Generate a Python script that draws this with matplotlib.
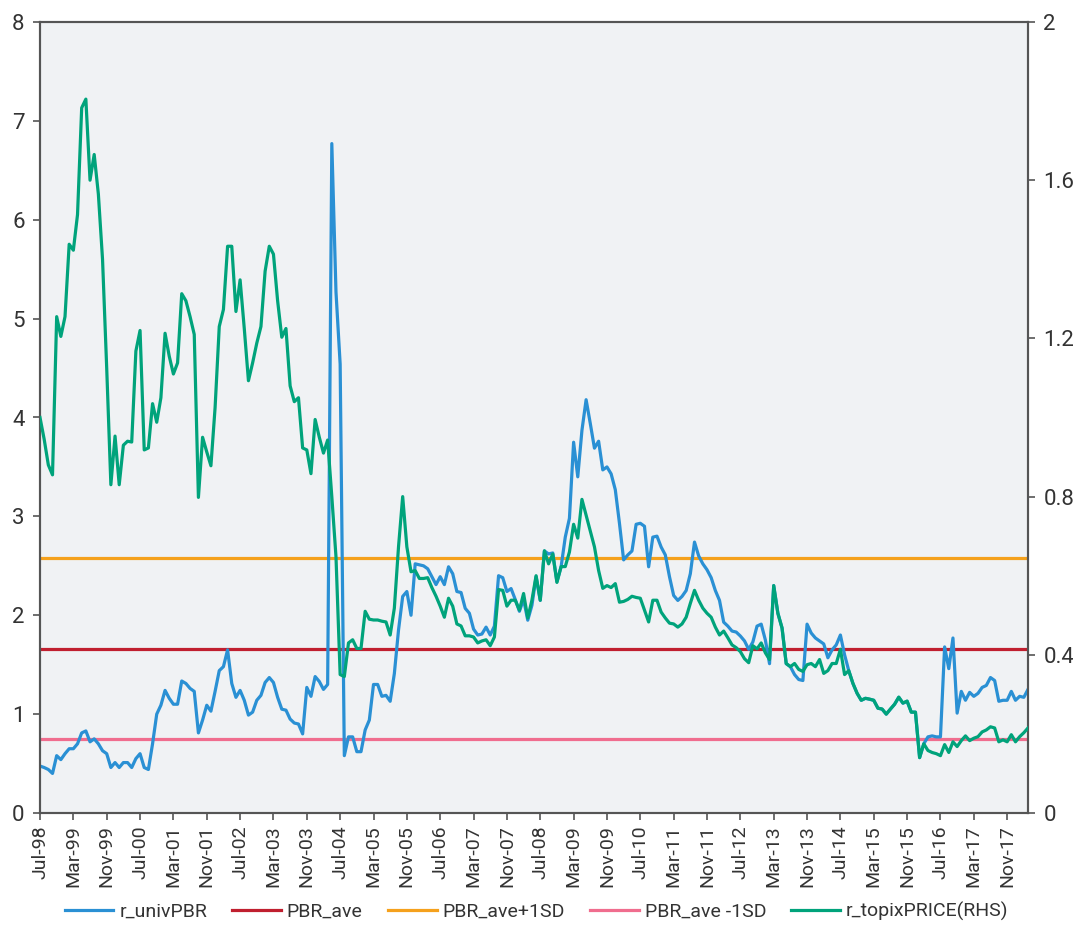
import matplotlib
matplotlib.use("Agg")
import matplotlib.pyplot as plt
from matplotlib.lines import Line2D

plt.rcParams['font.family'] = ['Roboto', 'DejaVu Sans']

tick_labels = ["Jul-98", "Mar-99", "Nov-99", "Jul-00", "Mar-01", "Nov-01", "Jul-02", "Mar-03",
               "Nov-03", "Jul-04", "Mar-05", "Nov-05", "Jul-06", "Mar-07", "Nov-07", "Jul-08",
               "Mar-09", "Nov-09", "Jul-10", "Mar-11", "Nov-11", "Jul-12", "Mar-13", "Nov-13",
               "Jul-14", "Mar-15", "Nov-15", "Jul-16", "Mar-17", "Nov-17"]

r_univPBR = [
    0.475, 0.46, 0.44, 0.40, 0.58, 0.54, 0.60, 0.65, 0.65, 0.70,
    0.81, 0.83, 0.72, 0.75, 0.70, 0.63, 0.60, 0.46, 0.51, 0.46,
    0.51, 0.51, 0.46, 0.55, 0.60, 0.46, 0.44, 0.70, 1.00, 1.09,
    1.24, 1.16, 1.10, 1.10, 1.335, 1.31, 1.26, 1.23, 0.81, 0.94,
    1.09, 1.03, 1.23, 1.44, 1.48, 1.65, 1.31, 1.17, 1.24, 1.14,
    0.99, 1.02, 1.14, 1.19, 1.32, 1.37, 1.32, 1.17, 1.05, 1.04,
    0.95, 0.91, 0.90, 0.80, 1.27, 1.18, 1.38, 1.33, 1.25, 1.30,
    6.77, 5.27, 4.54, 0.58, 0.77, 0.77, 0.62, 0.62, 0.84, 0.94,
    1.30, 1.30, 1.18, 1.19, 1.13, 1.41, 1.85, 2.19, 2.24, 2.00,
    2.52, 2.51, 2.50, 2.47, 2.39, 2.31, 2.39, 2.31, 2.49, 2.42,
    2.24, 2.23, 2.07, 2.02, 1.86, 1.80, 1.81, 1.88, 1.80, 1.89,
    2.40, 2.38, 2.24, 2.27, 2.16, 2.04, 2.16, 1.95, 2.10, 2.39,
    2.15, 2.65, 2.62, 2.63, 2.34, 2.49, 2.79, 2.98, 3.75, 3.40,
    3.87, 4.18, 3.94, 3.69, 3.76, 3.47, 3.50, 3.43, 3.27, 2.93,
    2.56, 2.61, 2.65, 2.92, 2.93, 2.90, 2.49, 2.79, 2.80, 2.69,
    2.61, 2.39, 2.20, 2.15, 2.19, 2.25, 2.42, 2.74, 2.60, 2.52,
    2.46, 2.38, 2.25, 2.15, 1.93, 1.89, 1.84, 1.83, 1.79, 1.74,
    1.655, 1.73, 1.89, 1.91, 1.75, 1.51, 2.30, 2.02, 1.87, 1.51,
    1.48, 1.40, 1.35, 1.34, 1.91, 1.82, 1.77, 1.74, 1.71, 1.57,
    1.65, 1.70, 1.80, 1.60, 1.44, 1.31, 1.21, 1.14, 1.16, 1.15,
    1.14, 1.06, 1.05, 1.00, 1.05, 1.10, 1.17, 1.11, 1.13, 1.02,
    1.02, 0.56, 0.70, 0.77, 0.78, 0.77, 0.77, 1.68, 1.46, 1.77,
    1.01, 1.23, 1.14, 1.22, 1.18, 1.21, 1.27, 1.29, 1.37, 1.34,
    1.13, 1.14, 1.14, 1.23, 1.14, 1.18, 1.17, 1.25,
]

r_topixPRICE = [
    1.000, 0.945, 0.880, 0.855, 1.255, 1.205, 1.255, 1.438, 1.423, 1.513,
    1.783, 1.805, 1.600, 1.665, 1.565, 1.400, 1.125, 0.830, 0.953, 0.830,
    0.930, 0.940, 0.938, 1.168, 1.220, 0.918, 0.923, 1.035, 0.988, 1.050,
    1.213, 1.155, 1.110, 1.138, 1.313, 1.295, 1.255, 1.210, 0.798, 0.950,
    0.913, 0.878, 1.025, 1.230, 1.273, 1.433, 1.433, 1.268, 1.348, 1.225,
    1.093, 1.138, 1.188, 1.230, 1.370, 1.433, 1.413, 1.295, 1.203, 1.225,
    1.080, 1.040, 1.050, 0.923, 0.918, 0.858, 0.995, 0.950, 0.910, 0.943,
    0.800, 0.648, 0.350, 0.345, 0.430, 0.438, 0.416, 0.416, 0.510, 0.490,
    0.488, 0.488, 0.485, 0.483, 0.450, 0.518, 0.673, 0.800, 0.673, 0.610,
    0.613, 0.593, 0.593, 0.595, 0.570, 0.548, 0.523, 0.495, 0.543, 0.523,
    0.478, 0.473, 0.448, 0.448, 0.445, 0.430, 0.435, 0.438, 0.423, 0.445,
    0.565, 0.563, 0.523, 0.538, 0.538, 0.513, 0.555, 0.493, 0.538, 0.600,
    0.538, 0.663, 0.630, 0.655, 0.583, 0.623, 0.623, 0.660, 0.730, 0.695,
    0.793, 0.753, 0.713, 0.673, 0.613, 0.568, 0.575, 0.570, 0.580, 0.533,
    0.535, 0.540, 0.548, 0.545, 0.543, 0.513, 0.483, 0.538, 0.538, 0.508,
    0.493, 0.480, 0.478, 0.470, 0.478, 0.495, 0.530, 0.563, 0.538, 0.518,
    0.505, 0.495, 0.470, 0.450, 0.460, 0.443, 0.425, 0.418, 0.408, 0.390,
    0.380, 0.423, 0.415, 0.430, 0.405, 0.388, 0.575, 0.505, 0.468, 0.378,
    0.370, 0.378, 0.363, 0.358, 0.375, 0.378, 0.370, 0.388, 0.353, 0.360,
    0.378, 0.378, 0.414, 0.350, 0.360, 0.328, 0.303, 0.285, 0.290, 0.288,
    0.285, 0.265, 0.263, 0.250, 0.263, 0.275, 0.293, 0.278, 0.283, 0.255,
    0.255, 0.140, 0.175, 0.158, 0.153, 0.150, 0.145, 0.173, 0.153, 0.180,
    0.168, 0.183, 0.195, 0.183, 0.189, 0.193, 0.205, 0.210, 0.218, 0.215,
    0.180, 0.185, 0.180, 0.198, 0.180, 0.193, 0.203, 0.215,
]

PBR_ave = 1.66
PBR_ave_plus_1SD = 2.58
PBR_ave_minus_1SD = 0.745

c_blue = "#2a90d4"
c_red = "#c01f2f"
c_orange = "#f5a11c"
c_pink = "#f06d8e"
c_green = "#00a37b"
c_axis = "#555555"

n = len(r_univPBR)
x = list(range(n))

fig = plt.figure(figsize=(10.73, 9.38), dpi=100)
ax = fig.add_axes([40/1073, 1-813/938, (1028-40)/1073, (813-22)/938])
ax.set_facecolor("#f0f2f4")

lw = 2.3
ax.axhline(PBR_ave, color=c_red, lw=lw, zorder=2)
ax.axhline(PBR_ave_plus_1SD, color=c_orange, lw=lw, zorder=2)
ax.axhline(PBR_ave_minus_1SD, color=c_pink, lw=lw, zorder=2)
ax.plot(x, r_univPBR, color=c_blue, lw=lw, zorder=3, solid_joinstyle='round')

ax2 = ax.twinx()
ax2.plot(x, r_topixPRICE, color=c_green, lw=lw, zorder=3, solid_joinstyle='round')

ax.set_xlim(0, n - 1)
ax.set_ylim(0, 8)
ax2.set_ylim(0, 2)

ax.set_yticks(range(0, 9))
ax.set_yticklabels([str(v) for v in range(0, 9)])
r_ticks = [0, 0.4, 0.8, 1.2, 1.6, 2]
ax2.set_yticks(r_ticks)
ax2.set_yticklabels(["0", "0.4", "0.8", "1.2", "1.6", "2"])

ax.set_xticks(list(range(0, 8 * len(tick_labels), 8)))
ax.set_xticklabels(tick_labels, rotation=90)

for a in (ax, ax2):
    for s in a.spines.values():
        s.set_color(c_axis)
        s.set_linewidth(1.5)
ax.tick_params(axis='y', direction='out', length=5, width=1.2, color=c_axis,
               labelsize=16, labelcolor="#333333", pad=6)
ax.tick_params(axis='x', direction='out', length=5, width=1.2, color=c_axis,
               labelsize=14, labelcolor="#333333", pad=4)
ax2.tick_params(axis='y', direction='out', length=5, width=1.2, color=c_axis,
                labelsize=16, labelcolor="#333333", pad=6)

handles = [
    Line2D([], [], color=c_blue, lw=lw),
    Line2D([], [], color=c_red, lw=lw),
    Line2D([], [], color=c_orange, lw=lw),
    Line2D([], [], color=c_pink, lw=lw),
    Line2D([], [], color=c_green, lw=lw),
]
labels = ["r_univPBR", "PBR_ave", "PBR_ave+1SD", "PBR_ave -1SD", "r_topixPRICE(RHS)"]
fig.legend(handles, labels, loc='center', bbox_to_anchor=(0.5, 1-911/938), ncol=5,
           frameon=False, fontsize=14, handlelength=2.5, handletextpad=0.3,
           columnspacing=1.3, labelcolor="#333333")

fig.savefig("out.png", dpi=100, facecolor="white")
